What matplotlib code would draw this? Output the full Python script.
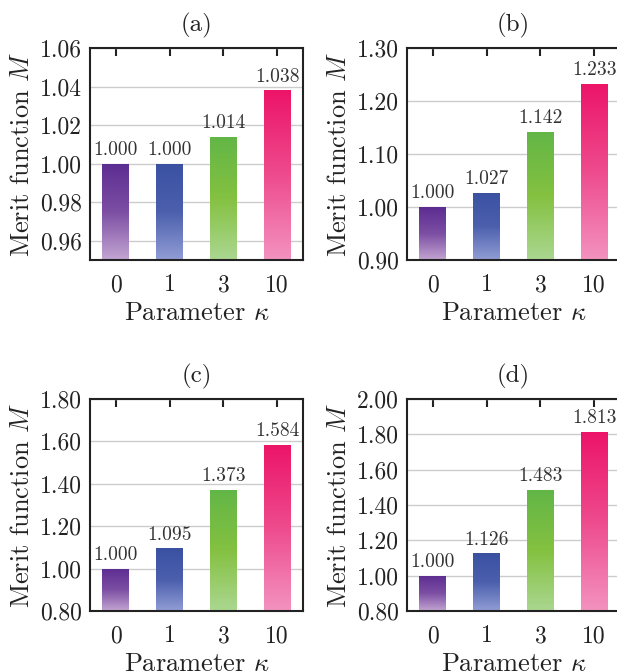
import numpy as np
import matplotlib
matplotlib.use("Agg")
import matplotlib.pyplot as plt
from matplotlib.colors import to_rgb

plt.rcParams['font.family'] = 'serif'
plt.rcParams['font.serif'] = ['cmr10']
plt.rcParams['mathtext.fontset'] = 'cm'
plt.rcParams['axes.unicode_minus'] = False
plt.rcParams['axes.formatter.use_mathtext'] = True

kappa_labels = ['0', '1', '3', '10']
merit_a = [1.000, 1.000, 1.014, 1.038]
merit_b = [1.000, 1.027, 1.142, 1.233]
merit_c = [1.000, 1.095, 1.373, 1.584]
merit_d = [1.000, 1.126, 1.483, 1.813]
panel_titles = ['(a)', '(b)', '(c)', '(d)']
ylims = [(0.95, 1.06), (0.90, 1.30), (0.80, 1.80), (0.80, 2.00)]
yticks = [np.arange(0.96, 1.061, 0.02), np.arange(0.90, 1.301, 0.10),
          np.arange(0.80, 1.801, 0.20), np.arange(0.80, 2.001, 0.20)]

# gradient stops: bottom -> middle -> top
bar_grads = [
    ['#c3a5d2', '#7c4ea3', '#5c2d91'],
    ['#919dd5', '#4b5fad', '#3a51a2'],
    ['#abd791', '#84c140', '#62b647'],
    ['#f393bf', '#ee4b8d', '#ec1468'],
]

W, H = 617, 672
fig = plt.figure(figsize=(W / 100, H / 100), dpi=100)
positions = [
    (90 / W, 1 - 260 / H, 213 / W, 212 / H),
    (407 / W, 1 - 260 / H, 213 / W, 212 / H),
    (90 / W, 1 - 611 / H, 213 / W, 212 / H),
    (407 / W, 1 - 611 / H, 213 / W, 212 / H),
]
datasets = [merit_a, merit_b, merit_c, merit_d]


def grad_img(stops, n=256):
    c = np.array([to_rgb(s) for s in stops])
    t = np.linspace(0, 1, n)
    tp = np.linspace(0, 1, len(stops))
    img = np.stack([np.interp(t, tp, c[:, k]) for k in range(3)], axis=-1)
    return img[:, None, :]


for i, (pos, vals) in enumerate(zip(positions, datasets)):
    ax = fig.add_axes(pos)
    x = np.arange(len(vals))
    y0, y1 = ylims[i]
    ax.yaxis.grid(True, color='#cccccc', linewidth=1.0, zorder=0)
    ax.set_axisbelow(True)
    bars = ax.bar(x, [v - y0 for v in vals], bottom=y0, width=0.5,
                  facecolor='none', edgecolor='none', zorder=2)
    for j, b in enumerate(bars):
        im = ax.imshow(grad_img(bar_grads[j]), origin='lower', aspect='auto',
                       extent=(x[j] - 0.25, x[j] + 0.25, y0, vals[j]), zorder=2,
                       interpolation='bilinear')
        im.set_clip_path(b)
        ax.annotate(f'{vals[j]:.3f}', (x[j], vals[j]), xytext=(0, 3.5),
                    textcoords='offset points', ha='center', va='bottom',
                    fontsize=14, color='#333333', zorder=3)
    ax.set_xlim(-0.48, 3.48)
    ax.set_ylim(y0, y1)
    ax.set_xticks(x)
    ax.set_xticklabels(kappa_labels)
    ax.set_yticks(yticks[i])
    ax.set_yticklabels([f'{t:.2f}' for t in yticks[i]])
    ax.tick_params(axis='x', direction='in', top=True, bottom=True,
                   length=6, width=1.5, color='#222222', labelsize=17,
                   pad=10, labelcolor='#222222')
    ax.tick_params(axis='y', length=0, labelsize=17, pad=6,
                   labelcolor='#222222')
    for s in ax.spines.values():
        s.set_linewidth(1.5)
        s.set_color('#222222')
    ax.set_xlabel(r'Parameter $\kappa$', fontsize=19, color='#222222', labelpad=4)
    ax.set_ylabel(r'Merit function $M$', fontsize=19, color='#222222', labelpad=4)
    ax.set_title(panel_titles[i], fontsize=18, pad=12, color='#222222')

fig.savefig('out.png', dpi=100)
